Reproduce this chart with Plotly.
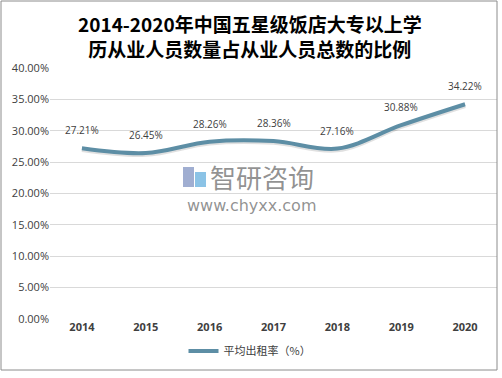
import plotly.graph_objects as go

years = ["2014", "2015", "2016", "2017", "2018", "2019", "2020"]
ratios = [0.2721, 0.2645, 0.2826, 0.2836, 0.2716, 0.3088, 0.3422]
labels = ["27.21%", "26.45%", "28.26%", "28.36%", "27.16%", "30.88%", "34.22%"]
y_ticks = [0, 0.05, 0.10, 0.15, 0.20, 0.25, 0.30, 0.35, 0.40]
series_name = "平均出租率（%）"
title_text = "2014-2020年中国五星级饭店大专以上学<br>历从业人员数量占从业人员总数的比例"

L, R, T, B = 50, 5, 68, 59
W, H = 502, 378
pw, ph = W - L - R, H - T - B

def px(x):
    return (x - L) / pw

def py(y):
    return (H - B - y) / ph

fig = go.Figure()
# shadow
fig.add_trace(go.Scatter(
    x=years, y=[v - 0.002 for v in ratios], mode="lines",
    line=dict(color="rgba(0,0,0,0.12)", width=5, shape="spline", smoothing=1.0),
    hoverinfo="skip", showlegend=False))
fig.add_trace(go.Scatter(
    x=years, y=ratios, mode="lines", name=series_name,
    line=dict(color="#5d8ea5", width=4, shape="spline", smoothing=1.0)))

label_annotations = [
    dict(x=i, y=v, xref="x", yref="y", text=t, showarrow=False, yshift=18,
         xanchor="center", yanchor="middle",
         font=dict(family="Open Sans, DejaVu Sans", size=10, color="#404040"))
    for i, (v, t) in enumerate(zip(ratios, labels))
]

fig.update_layout(
    width=W, height=H, margin=dict(l=L, r=R, t=T, b=B, autoexpand=False),
    paper_bgcolor="white", plot_bgcolor="white",
    showlegend=True,
    legend=dict(x=px(250), xanchor="center", y=py(351), yanchor="middle",
                orientation="h", font=dict(family="Noto Sans CJK SC", size=11, color="#404040"),
                bgcolor="rgba(0,0,0,0)", itemwidth=30),
    xaxis=dict(type="category", range=[-0.5, 6.5], showgrid=False, showline=False, ticks="",
               automargin=False,
               tickfont=dict(family="Open Sans, DejaVu Sans", size=11, color="#404040", weight="bold")),
    yaxis=dict(range=[0, 0.4], tickvals=y_ticks, tickformat=".2%", automargin=False,
               showgrid=True, gridcolor="#d9d9d9", gridwidth=1, zeroline=False,
               showline=False, ticks="",
               tickfont=dict(family="Open Sans, DejaVu Sans", size=11, color="#404040")),
    annotations=label_annotations + [
        dict(text=title_text, xref="paper", yref="paper", x=px(250), y=py(36),
             xanchor="center", yanchor="middle", showarrow=False,
             font=dict(family="Noto Sans CJK SC", size=19, color="#000000", weight="bold")),
        dict(text="智研咨询", xref="paper", yref="paper", x=px(208), y=py(176),
             xanchor="left", yanchor="middle", showarrow=False,
             font=dict(family="Noto Sans CJK SC", size=26, color="rgba(110,110,110,0.75)")),
        dict(text="www.chyxx.com", xref="paper", yref="paper", x=px(251), y=py(205),
             xanchor="center", yanchor="middle", showarrow=False,
             font=dict(family="DejaVu Sans", size=16, color="rgba(110,110,110,0.75)")),
    ],
    shapes=[
        dict(type="rect", xref="paper", yref="paper", x0=px(1), x1=px(497), y0=py(370), y1=py(1),
             line=dict(color="#8c8c8c", width=1)),
        dict(type="rect", xref="paper", yref="paper", x0=px(183), x1=px(194), y0=py(187), y1=py(167),
             fillcolor="rgba(120,140,190,0.7)", line=dict(width=0)),
        dict(type="rect", xref="paper", yref="paper", x0=px(195), x1=px(206), y0=py(187), y1=py(172),
             fillcolor="rgba(90,170,220,0.7)", line=dict(width=0)),
    ],
)

fig.write_html("out.html", config={"displayModeBar": False},
               post_script="document.body.style.margin='0';document.body.style.overflow='hidden';")
